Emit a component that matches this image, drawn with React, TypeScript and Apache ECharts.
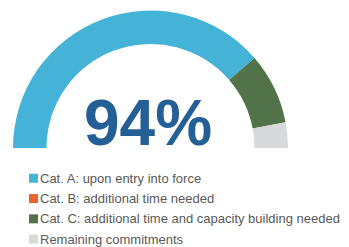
import React, { useEffect, useRef } from "react";
import * as echarts from "echarts";

const categories = [
  "Cat. A: upon entry into force",
  "Cat. B: additional time needed",
  "Cat. C: additional time and capacity building needed",
  "Remaining commitments",
];
const values = [77.3, 0, 16.7, 6];
const colors = ["#45B2D8", "#E8642C", "#52734A", "#D8D9DA"];
const centerLabel = "94%";

export default function App() {
  const ref = useRef<HTMLDivElement>(null);
  useEffect(() => {
    document.body.style.margin = "0";
    const chart = echarts.init(ref.current!, null, { renderer: "svg" });
    const data: any[] = categories.map((name, i) => ({
      name,
      value: values[i],
      itemStyle: { color: colors[i] },
    }));
    const total = values.reduce((a, b) => a + b, 0);
    data.push({
      name: "__hidden",
      value: total,
      itemStyle: { color: "none" },
      emphasis: { disabled: true },
      tooltip: { show: false },
    });
    chart.setOption({
      animation: false,
      legend: {
        data: categories,
        orient: "vertical",
        left: 29,
        top: 171,
        padding: 0,
        itemWidth: 9,
        itemHeight: 9,
        itemGap: 5.8,
        icon: "rect",
        selectedMode: false,
        textStyle: {
          fontFamily: "Liberation Sans, Arial, sans-serif",
          fontSize: 13,
          lineHeight: 14.5,
          color: "#595959",
          padding: [0, 0, 0, -3],
        },
      },
      series: [
        {
          type: "pie",
          center: [150.5, 148],
          radius: [104, 137.5],
          startAngle: 180,
          clockwise: true,
          label: { show: false },
          labelLine: { show: false },
          silent: true,
          data,
        },
      ],
      graphic: [
        {
          type: "text",
          x: 148,
          y: 123,
          style: {
            text: centerLabel,
            fontFamily: "Liberation Sans, Arial, sans-serif",
            fontWeight: "bold",
            fontSize: 64,
            fill: "#245F96",
            textAlign: "center",
            textVerticalAlign: "middle",
          },
        },
      ],
    });
    return () => chart.dispose();
  }, []);
  return (
    <div
      ref={ref}
      style={{ position: "absolute", left: 0, top: 0, width: 349, height: 247 }}
    />
  );
}
